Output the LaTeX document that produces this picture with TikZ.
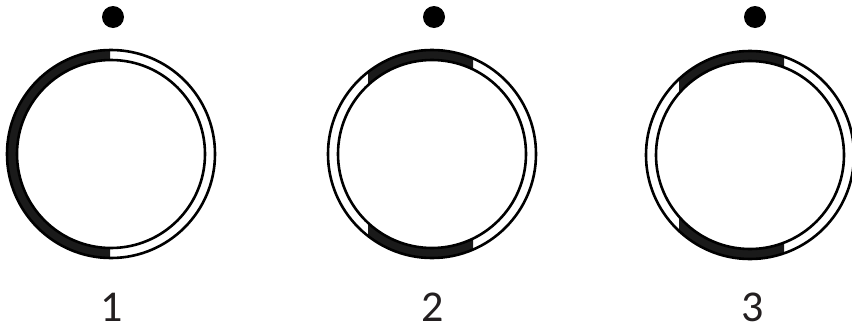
\documentclass[tikz,border=0pt]{standalone}
\usepackage{fontspec}
\setmainfont{Carlito}
\definecolor{lbl}{HTML}{231F20}
\definecolor{band}{HTML}{1A1A1A}
\tikzset{
  ringline/.style={draw=black, line width=2.6pt},
  dotmark/.style={circle, fill=black, minimum size=22pt, inner sep=0pt},
  numlabel/.style={font=\fontsize{44}{44}\selectfont, text=lbl, inner sep=0pt},
}
\newcommand{\ringband}[4]{% cx, cy, x1, x2 : black band between x1 and x2 (top and bottom)
  \begin{scope}
    \clip (#3,#2-110) rectangle (#4,#2+110);
    \fill[band, even odd rule] (#1,#2) circle[radius=104] (#1,#2) circle[radius=94];
  \end{scope}
}
\begin{document}
\begin{tikzpicture}[x=1pt, y=-1pt]
\useasboundingbox (0,0) rectangle (852,327);
% circle 1
\ringband{111}{154}{0}{110}
\draw[ringline] (111,154) circle[radius=104];
\draw[ringline] (111,154) circle[radius=94];
\node[dotmark] (d1) at (113,17) {};
\node[numlabel] (l1) at (112,307) {1};
% circle 2
\ringband{432}{154}{368}{473}
\draw[ringline] (432,154) circle[radius=104];
\draw[ringline] (432,154) circle[radius=94];
\node[dotmark] (d2) at (434,17) {};
\node[numlabel] (l2) at (433,307) {2};
% circle 3
\ringband{750}{155}{679}{784}
\draw[ringline] (750,155) circle[radius=104];
\draw[ringline] (750,155) circle[radius=94];
\node[dotmark] (d3) at (755,17) {};
\node[numlabel] (l3) at (753,307) {3};
\end{tikzpicture}
\end{document}
